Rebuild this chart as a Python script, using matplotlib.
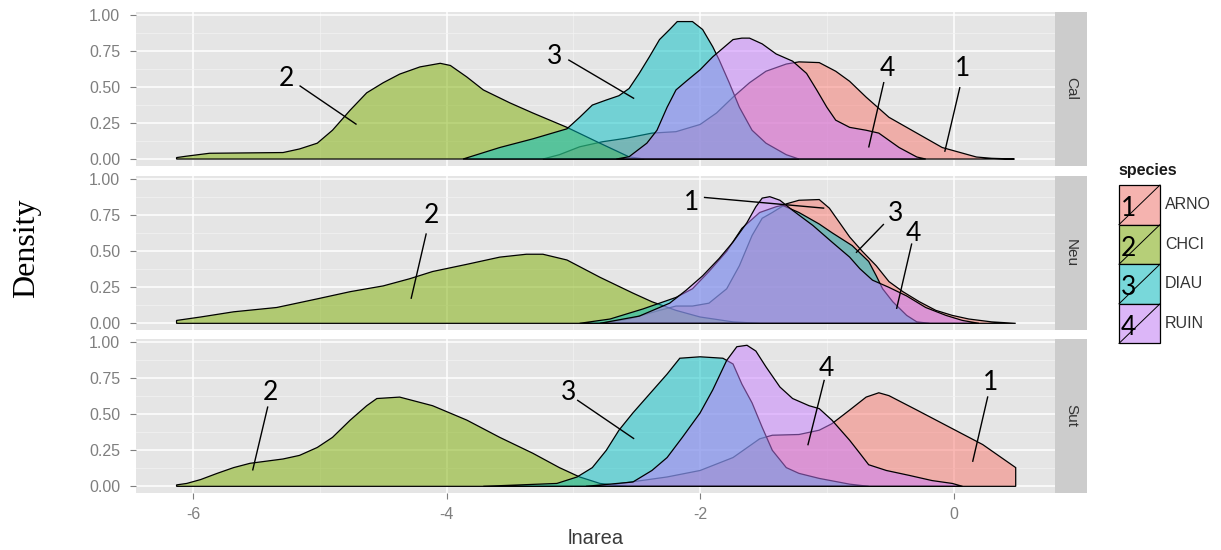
import matplotlib
matplotlib.use("Agg")
import matplotlib.pyplot as plt
from matplotlib.colors import to_rgba
from matplotlib.patches import Rectangle
import numpy as np

plt.rcParams["axes.unicode_minus"] = False

species = ["ARNO", "CHCI", "DIAU", "RUIN"]
species_colors = ["#F8766D", "#7CAE00", "#00BFC4", "#C77CFF"]
sites = ["Cal", "Neu", "Sut"]

x_ticks = [-6, -4, -2, 0]
x_tick_labels = ["-6", "-4", "-2", "0"]
y_ticks = [0.0, 0.25, 0.5, 0.75, 1.0]
y_tick_labels = ["0.00", "0.25", "0.50", "0.75", "1.00"]

# ---- density curves (lnarea, density) per site and species ----
cal_arno_x = [-3.24, -3.11, -2.95, -2.77, -2.58, -2.38, -2.19, -2.00, -1.87, -1.74, -1.61, -1.48,
              -1.32, -1.22, -1.06, -0.93, -0.82, -0.69, -0.51, -0.29, -0.09, 0.18, 0.30, 0.48]
cal_arno_y = [0.0, 0.03, 0.085, 0.12, 0.145, 0.18, 0.19, 0.24, 0.32, 0.43, 0.53, 0.61,
              0.66, 0.675, 0.67, 0.61, 0.54, 0.43, 0.29, 0.18, 0.08, 0.014, 0.005, 0.0]
cal_chci_x = [-6.13, -6.05, -5.87, -5.29, -5.16, -5.02, -4.90, -4.76, -4.63, -4.50, -4.37, -4.21,
              -4.05, -3.97, -3.84, -3.71, -3.50, -3.32, -3.05, -2.79, -2.56, -2.44]
cal_chci_y = [0.01, 0.02, 0.04, 0.045, 0.07, 0.11, 0.20, 0.34, 0.46, 0.53, 0.59, 0.64,
              0.665, 0.65, 0.57, 0.48, 0.39, 0.32, 0.22, 0.11, 0.015, 0.0]
cal_diau_x = [-3.87, -3.58, -3.32, -3.05, -2.95, -2.85, -2.74, -2.64, -2.56, -2.48, -2.40, -2.32,
              -2.24, -2.18, -2.06, -1.98, -1.90, -1.85, -1.77, -1.69, -1.59, -1.48, -1.32, -1.22]
cal_diau_y = [0.0, 0.08, 0.14, 0.21, 0.29, 0.375, 0.41, 0.44, 0.49, 0.595, 0.71, 0.83,
              0.90, 0.955, 0.955, 0.90, 0.78, 0.69, 0.53, 0.36, 0.20, 0.11, 0.03, 0.0]
cal_ruin_x = [-2.66, -2.56, -2.42, -2.34, -2.26, -2.19, -2.11, -2.00, -1.90, -1.82, -1.74, -1.67, -1.61,
              -1.51, -1.40, -1.27, -1.16, -1.08, -1.00, -0.93, -0.82, -0.69, -0.59, -0.43, -0.29, -0.22]
cal_ruin_y = [0.0, 0.016, 0.11, 0.20, 0.36, 0.48, 0.54, 0.62, 0.71, 0.77, 0.83, 0.84, 0.84,
              0.80, 0.73, 0.68, 0.595, 0.48, 0.36, 0.27, 0.22, 0.20, 0.18, 0.08, 0.014, 0.0]

neu_arno_x = [-2.79, -2.56, -2.32, -2.19, -2.06, -1.93, -1.79, -1.69, -1.59, -1.51, -1.43, -1.32, -1.22, -1.06,
              -0.98, -0.90, -0.82, -0.72, -0.61, -0.51, -0.40, -0.27, -0.14, -0.01, 0.12, 0.30, 0.49]
neu_arno_y = [0.0, 0.03, 0.09, 0.12, 0.12, 0.14, 0.24, 0.40, 0.61, 0.73, 0.77, 0.83, 0.855, 0.86,
              0.80, 0.70, 0.60, 0.50, 0.40, 0.29, 0.22, 0.15, 0.09, 0.055, 0.03, 0.01, 0.0]
neu_chci_x = [-6.13, -5.94, -5.68, -5.34, -5.02, -4.76, -4.50, -4.29, -4.11, -3.84, -3.58, -3.37, -3.24,
              -3.05, -2.79, -2.53, -2.38, -2.19, -2.00, -1.74, -1.53]
neu_chci_y = [0.02, 0.044, 0.08, 0.11, 0.17, 0.22, 0.26, 0.31, 0.36, 0.41, 0.46, 0.48, 0.48,
              0.44, 0.32, 0.21, 0.15, 0.09, 0.044, 0.01, 0.0]
neu_diau_x = [-2.95, -2.71, -2.45, -2.19, -2.06, -1.93, -1.79, -1.67, -1.53, -1.40, -1.35, -1.22,
              -1.06, -0.96, -0.80, -0.67, -0.61, -0.56, -0.48, -0.37, -0.29, -0.19]
neu_diau_y = [0.0, 0.03, 0.10, 0.18, 0.24, 0.36, 0.50, 0.66, 0.77, 0.81, 0.82, 0.77,
              0.69, 0.63, 0.54, 0.43, 0.33, 0.24, 0.15, 0.055, 0.01, 0.0]
neu_ruin_x = [-2.79, -2.48, -2.24, -2.11, -1.98, -1.85, -1.74, -1.63, -1.56, -1.51, -1.45, -1.37,
              -1.27, -1.11, -0.96, -0.82, -0.74, -0.64, -0.51, -0.37, -0.22, -0.06, 0.07, 0.20]
neu_ruin_y = [0.0, 0.05, 0.14, 0.23, 0.33, 0.45, 0.565, 0.70, 0.81, 0.87, 0.88, 0.855,
              0.785, 0.68, 0.565, 0.46, 0.38, 0.30, 0.25, 0.19, 0.11, 0.055, 0.02, 0.0]

sut_arno_x = [-2.79, -2.26, -2.00, -1.74, -1.53, -1.43, -1.22, -1.06, -0.96, -0.82, -0.69, -0.59,
              -0.51, -0.29, -0.03, 0.23, 0.36, 0.49]
sut_arno_y = [0.0, 0.065, 0.11, 0.20, 0.33, 0.355, 0.36, 0.39, 0.435, 0.53, 0.62, 0.65,
              0.63, 0.53, 0.41, 0.29, 0.21, 0.13]
sut_chci_x = [-6.13, -6.05, -5.94, -5.81, -5.68, -5.55, -5.29, -5.16, -5.02, -4.90, -4.76, -4.63,
              -4.55, -4.37, -4.11, -3.84, -3.58, -3.32, -3.11, -2.95, -2.79, -2.58]
sut_chci_y = [0.01, 0.02, 0.047, 0.09, 0.13, 0.16, 0.19, 0.215, 0.27, 0.34, 0.46, 0.56,
              0.61, 0.62, 0.56, 0.46, 0.34, 0.23, 0.13, 0.065, 0.02, 0.0]
sut_diau_x = [-3.71, -3.13, -2.97, -2.85, -2.74, -2.64, -2.53, -2.40, -2.26, -2.16, -2.00, -1.82,
              -1.74, -1.67, -1.59, -1.51, -1.43, -1.32, -1.22, -1.06, -0.82, -0.67]
sut_diau_y = [0.0, 0.02, 0.065, 0.13, 0.25, 0.39, 0.51, 0.64, 0.78, 0.89, 0.90, 0.89,
              0.85, 0.71, 0.58, 0.41, 0.25, 0.13, 0.09, 0.055, 0.015, 0.0]
sut_ruin_x = [-2.90, -2.53, -2.38, -2.26, -2.14, -2.00, -1.90, -1.79, -1.71, -1.63, -1.56, -1.48, -1.37,
              -1.27, -1.14, -1.06, -0.96, -0.82, -0.74, -0.67, -0.53, -0.35, -0.17, -0.01, 0.07]
sut_ruin_y = [0.0, 0.03, 0.11, 0.20, 0.34, 0.51, 0.67, 0.875, 0.97, 0.98, 0.94, 0.83, 0.69,
              0.61, 0.56, 0.54, 0.46, 0.32, 0.23, 0.15, 0.11, 0.076, 0.04, 0.02, 0.0]

curves = {
    "Cal": [(cal_arno_x, cal_arno_y), (cal_chci_x, cal_chci_y), (cal_diau_x, cal_diau_y), (cal_ruin_x, cal_ruin_y)],
    "Neu": [(neu_arno_x, neu_arno_y), (neu_chci_x, neu_chci_y), (neu_diau_x, neu_diau_y), (neu_ruin_x, neu_ruin_y)],
    "Sut": [(sut_arno_x, sut_arno_y), (sut_chci_x, sut_chci_y), (sut_diau_x, sut_diau_y), (sut_ruin_x, sut_ruin_y)],
}

# numbered callouts: (label, text x, text y, line start x, y, line end x, y)
callouts = {
    "Cal": [("2", -5.26, 0.56, -5.16, 0.51, -4.71, 0.24),
            ("3", -3.15, 0.71, -3.04, 0.69, -2.52, 0.42),
            ("4", -0.52, 0.63, -0.55, 0.535, -0.67, 0.08),
            ("1", 0.07, 0.63, 0.05, 0.50, -0.07, 0.05)],
    "Neu": [("2", -4.12, 0.75, -4.16, 0.625, -4.28, 0.17),
            ("1", -2.07, 0.84, -1.97, 0.875, -1.02, 0.80),
            ("3", -0.46, 0.76, -0.55, 0.69, -0.77, 0.49),
            ("4", -0.32, 0.625, -0.33, 0.555, -0.45, 0.10)],
    "Sut": [("2", -5.39, 0.65, -5.41, 0.555, -5.53, 0.11),
            ("3", -3.04, 0.65, -2.97, 0.60, -2.52, 0.33),
            ("4", -1.00, 0.82, -1.02, 0.74, -1.15, 0.285),
            ("1", 0.29, 0.72, 0.27, 0.625, 0.15, 0.17)],
}

W, H = 1221, 550
fig = plt.figure(figsize=(W / 100, H / 100), dpi=100)

panel_left, panel_right = 136, 1055
strip_w = 32
panel_tops = [11.5, 175.8, 338.8]
panel_h = 154
tick_grey = "#7F7F7F"
label_font = ["Liberation Sans", "DejaVu Sans"]
callout_font = ["Lato", "DejaVu Sans"]


def fig_rect(left, top, width, height):
    return [left / W, 1 - (top + height) / H, width / W, height / H]


for i, site in enumerate(sites):
    ax = fig.add_axes(fig_rect(panel_left, panel_tops[i], panel_right - panel_left, panel_h))
    ax.set_facecolor("#E5E5E5")
    ax.set_xlim(-6.45, 0.80)
    ax.set_ylim(-0.045, 1.025)
    for s in ax.spines.values():
        s.set_visible(False)

    ax.set_xticks(x_ticks)
    ax.set_xticks([-5, -3, -1], minor=True)
    ax.set_yticks(y_ticks)
    ax.set_yticks([0.125, 0.375, 0.625, 0.875], minor=True)
    ax.grid(which="major", color="white", lw=1.1)
    ax.grid(which="minor", color="#F2F2F2", lw=0.55)
    ax.set_axisbelow(True)
    ax.tick_params(which="minor", length=0)
    ax.tick_params(axis="y", which="major", length=4.3, width=0.8, color=tick_grey,
                   pad=7, labelsize=11.5, labelcolor=tick_grey)
    ax.set_yticklabels(y_tick_labels, family=label_font)
    if i == len(sites) - 1:
        ax.tick_params(axis="x", which="major", length=4, width=0.8, color=tick_grey,
                       pad=6, labelsize=11.5, labelcolor=tick_grey)
        ax.set_xticklabels(x_tick_labels, family=label_font)
        ax.set_xlabel("lnarea", fontsize=14.5, color="#3A3A3A", family=label_font, labelpad=5)
    else:
        ax.tick_params(axis="x", which="major", length=0, labelbottom=False)

    for (xs, ys), col in zip(curves[site], species_colors):
        px = np.r_[xs[0], xs, xs[-1]]
        py = np.r_[0.0, ys, 0.0]
        ax.fill(px, py, facecolor=to_rgba(col, 0.5), edgecolor="black", lw=0.9, zorder=2)

    for lab, tx, ty, x0, y0, x1, y1 in callouts[site]:
        ax.text(tx, ty, lab, fontsize=19, family=callout_font, ha="center", va="center", zorder=5)
        ax.plot([x0, x1], [y0, y1], color="black", lw=1.0, zorder=5, solid_capstyle="butt")

    sax = fig.add_axes(fig_rect(panel_right, panel_tops[i], strip_w, panel_h))
    sax.set_facecolor("#CCCCCC")
    sax.set_xticks([])
    sax.set_yticks([])
    for s in sax.spines.values():
        s.set_visible(False)
    sax.text(0.5, 0.5, site, rotation=270, ha="center", va="center", fontsize=11,
             color="#333333", family=label_font, transform=sax.transAxes)

fig.text(27 / W, 1 - 248 / H, "Density", rotation=90, ha="center", va="center",
         fontsize=23, family=["Liberation Serif", "DejaVu Serif"])

# legend drawn in pixel space
ov = fig.add_axes([0, 0, 1, 1])
ov.set_xlim(0, W)
ov.set_ylim(H, 0)
ov.axis("off")
ov.text(1118, 171, "species", fontsize=11.5, fontweight="bold", ha="left", va="center",
        family=label_font, color="#1A1A1A")
key_left, key_w, key_top, key_h = 1119, 41, 185, 39.6
for k, (sp, col) in enumerate(zip(species, species_colors)):
    top = key_top + k * key_h
    ov.add_patch(Rectangle((key_left, top), key_w, key_h, facecolor="#F2F2F2", edgecolor="none"))
    ov.add_patch(Rectangle((key_left, top), key_w, key_h, facecolor=to_rgba(col, 0.5),
                           edgecolor="black", lw=0.9))
    ov.plot([key_left, key_left + key_w], [top + key_h, top], color="black", lw=0.7)
    ov.text(key_left + 2, top + 31, str(k + 1), fontsize=19, family=callout_font,
            ha="left", va="baseline")
    ov.text(1165, top + key_h / 2, sp, fontsize=11.5, ha="left", va="center",
            family=label_font, color="#333333")

fig.savefig("out.png", dpi=100)
